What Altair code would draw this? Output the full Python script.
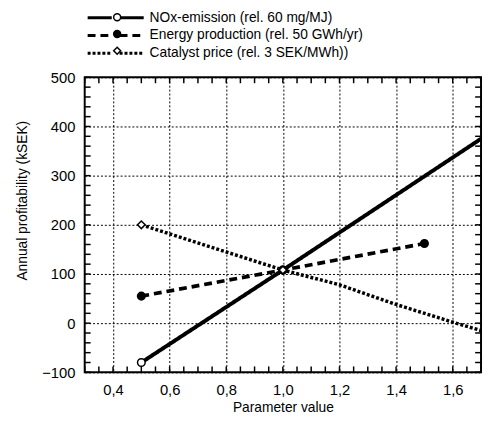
import altair as alt
import pandas as pd

series_names = [
    "NOx-emission (rel. 60 mg/MJ)",
    "Energy production (rel. 50 GWh/yr)",
    "Catalyst price (rel. 3 SEK/MWh))",
]

nox_x = [0.5, 1.0, 1.7]
nox_y = [-80, 108, 375]
energy_x = [0.5, 1.0, 1.5]
energy_y = [55, 108, 162]
cat_x = [0.5, 1.0, 1.2, 1.4, 1.6, 1.7]
cat_y = [200, 108, 78, 38, 2, -15]

# marker positions
nox_mx = [0.5, 1.0]
nox_my = [-80, 108]
energy_mx = [0.5, 1.0, 1.5]
energy_my = [55, 108, 162]
cat_mx = [0.5, 1.0]
cat_my = [200, 108]

x_ticks = [0.4, 0.6, 0.8, 1.0, 1.2, 1.4, 1.6]
y_ticks = [-100, 0, 100, 200, 300, 400, 500]
x_minor = [0.3, 0.35, 0.4, 0.45, 0.5, 0.55, 0.6, 0.65, 0.7, 0.75, 0.8, 0.85, 0.9, 0.95,
           1.0, 1.05, 1.1, 1.15, 1.2, 1.25, 1.3, 1.35, 1.4, 1.45, 1.5, 1.55, 1.6, 1.65, 1.7]
y_minor = [-100, -80, -60, -40, -20, 0, 20, 40, 60, 80, 100, 120, 140, 160, 180, 200,
           220, 240, 260, 280, 300, 320, 340, 360, 380, 400, 420, 440, 460, 480, 500]

W, H = 403, 300

lines = pd.DataFrame(
    [(series_names[0], x, y) for x, y in zip(nox_x, nox_y)]
    + [(series_names[1], x, y) for x, y in zip(energy_x, energy_y)]
    + [(series_names[2], x, y) for x, y in zip(cat_x, cat_y)],
    columns=["series", "x", "y"],
)
marks = pd.DataFrame(
    [(series_names[0], x, y) for x, y in zip(nox_mx, nox_my)]
    + [(series_names[1], x, y) for x, y in zip(energy_mx, energy_my)]
    + [(series_names[2], x, y) for x, y in zip(cat_mx, cat_my)],
    columns=["marker", "x", "y"],
)
xm = pd.DataFrame({"x": x_minor})
ym = pd.DataFrame({"y": y_minor})

xscale = alt.Scale(domain=[0.3, 1.7], nice=False, zero=False)
yscale = alt.Scale(domain=[-100, 500], nice=False, zero=False)

xaxis = alt.Axis(
    values=x_ticks, title="Parameter value", labelExpr="replace(datum.label, '.', ',')",
    grid=True, gridDash=[2, 2], gridColor="black", gridOpacity=1, gridWidth=1,
    ticks=False, domain=False, labelPadding=11, labelFontSize=15, titleFontSize=14,
    titlePadding=3, labelColor="black", titleColor="black", titleFontWeight="normal",
)
yaxis = alt.Axis(
    values=y_ticks, title="Annual profitability (kSEK)",
    grid=True, gridDash=[2, 2], gridColor="black", gridOpacity=1, gridWidth=1,
    ticks=False, domain=False, labelPadding=10, labelFontSize=15, titleFontSize=14,
    titlePadding=12, titleY=125, labelColor="black", titleColor="black",
    titleFontWeight="normal",
)

base_x = alt.X("x:Q", scale=xscale, axis=xaxis)
base_y = alt.Y("y:Q", scale=yscale, axis=yaxis)

LEG_Y = -68
ROWPAD = 3

line_layer = alt.Chart(lines).mark_line(color="black", strokeCap="butt").encode(
    x=base_x,
    y=base_y,
    detail="series:N",
    strokeDash=alt.StrokeDash(
        "series:N",
        scale=alt.Scale(domain=series_names, range=[[1, 0], [8, 5], [3, 2]]),
        legend=alt.Legend(
            orient="none", legendX=24, legendY=LEG_Y, title=None, padding=0,
            symbolType="M-5,0H-0.7M0.7,0H5", symbolSize=130, symbolStrokeColor="black",
            symbolStrokeWidth=3, labelOffset=27, labelFontSize=14, rowPadding=ROWPAD,
            labelColor="black", labelLimit=400, zindex=0,
        ),
    ),
    strokeWidth=alt.StrokeWidth(
        "series:N", scale=alt.Scale(domain=series_names, range=[4, 3.5, 3.5]), legend=None
    ),
)

mk_legend = alt.Legend(
    orient="none", legendX=26, legendY=LEG_Y, title=None, padding=0,
    symbolSize=50, symbolStrokeColor="black", symbolStrokeWidth=1.5,
    labelOffset=27, labelFontSize=14, rowPadding=ROWPAD, labelExpr="''",
    zindex=1,
)
point_layer = alt.Chart(marks).mark_point(filled=True, strokeWidth=1.5, size=60, opacity=1).encode(
    x=alt.X("x:Q", scale=xscale),
    y=alt.Y("y:Q", scale=yscale),
    shape=alt.Shape("marker:N", scale=alt.Scale(domain=series_names, range=["circle", "circle", "diamond"]), legend=mk_legend),
    fill=alt.Fill("marker:N", scale=alt.Scale(domain=series_names, range=["white", "black", "white"]), legend=mk_legend),
    stroke=alt.Stroke("marker:N", scale=alt.Scale(domain=series_names, range=["black", "black", "black"]), legend=mk_legend),
)

tick_len = 6
left_ticks = alt.Chart(ym).mark_tick(color="black", orient="horizontal", size=tick_len, thickness=1.5, opacity=1).encode(
    y=alt.Y("y:Q", scale=yscale), x=alt.value(tick_len / 2))
right_ticks = alt.Chart(ym).mark_tick(color="black", orient="horizontal", size=tick_len, thickness=1.5, opacity=1).encode(
    y=alt.Y("y:Q", scale=yscale), x=alt.value(W - tick_len / 2))
bottom_ticks = alt.Chart(xm).mark_tick(color="black", orient="vertical", size=tick_len, thickness=1.5, opacity=1).encode(
    x=alt.X("x:Q", scale=xscale), y=alt.value(H - tick_len / 2))
top_ticks = alt.Chart(xm).mark_tick(color="black", orient="vertical", size=tick_len, thickness=1.5, opacity=1).encode(
    x=alt.X("x:Q", scale=xscale), y=alt.value(tick_len / 2))

chart = alt.layer(
    line_layer, point_layer, left_ticks, right_ticks, bottom_ticks, top_ticks
).resolve_legend(
    strokeDash="independent", shape="independent", fill="independent", stroke="independent"
).properties(
    width=W, height=H,
    autosize=alt.AutoSizeParams(type="none"),
    padding={"left": 78, "top": 67, "right": 2, "bottom": 45},
).configure(
    font="Liberation Sans",
).configure_view(
    stroke="black", strokeWidth=2,
)

chart.save("out.html", embed_options={"renderer": "svg", "actions": False})
